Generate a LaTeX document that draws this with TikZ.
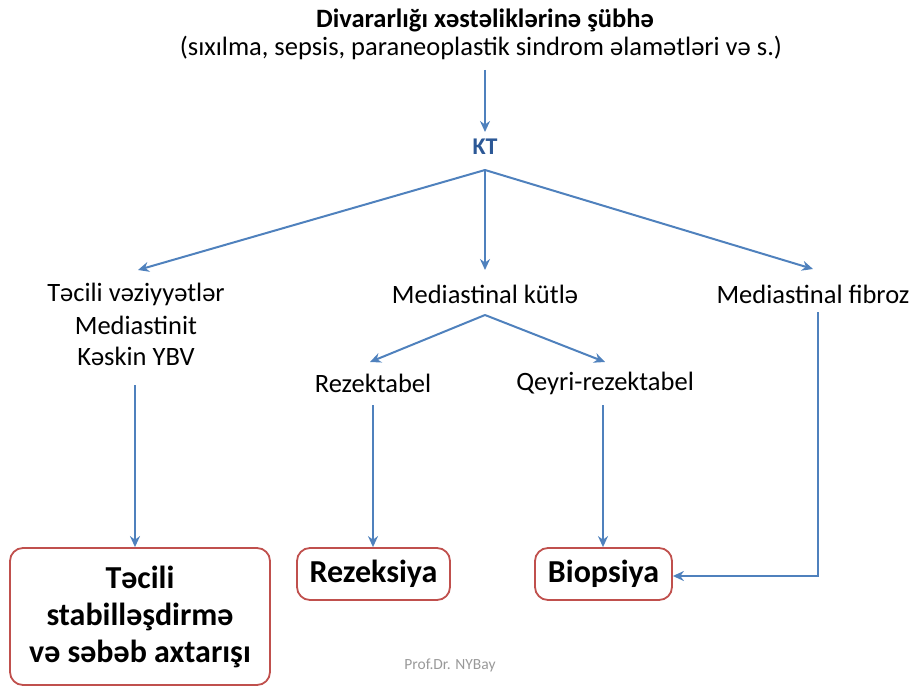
\documentclass[tikz,border=0pt]{standalone}
\usepackage{fontspec}
\setmainfont{Carlito}
\usetikzlibrary{arrows.meta}
\definecolor{ablue}{RGB}{79,129,189}
\definecolor{ktblue}{RGB}{44,88,150}
\definecolor{bred}{RGB}{192,80,77}
\begin{document}
\begin{tikzpicture}[x=1pt,y=-1pt,
  conn/.style={draw=ablue,line width=2pt,-{Stealth[length=11pt,width=10pt]}},
  txt/.style={font=\fontsize{26.5}{30}\selectfont,inner sep=0pt,align=center},
  res/.style={draw=bred,line width=1.8pt,rounded corners=13pt,font=\bfseries\fontsize{32}{37}\selectfont,align=center,inner sep=0pt}]
\useasboundingbox (0,0) rectangle (915,687);
\node[txt,font=\bfseries\fontsize{26.5}{30}\selectfont] (t1) at (485,20) {Divararlığı xəstəliklərinə şübhə};
\node[txt] (t2) at (481,48) {(sıxılma, sepsis, paraneoplastik sindrom əlamətləri və s.)};
\node[txt,font=\bfseries\fontsize{24}{27}\selectfont,text=ktblue] (kt) at (485,147) {KT};
\coordinate (a0) at (485,70);
\coordinate (a1) at (485,132);
\draw[conn] (a0) -- (a1);
\coordinate (k) at (485,170);
\coordinate (lt) at (138,270);
\coordinate (mt) at (485,270);
\coordinate (rt) at (813,269);
\draw[conn] (k) -- (lt);
\draw[conn] (k) -- (mt);
\draw[conn] (k) -- (rt);
\node[txt] (l1) at (136,294) {Təcili vəziyyətlər};
\node[txt] (l2) at (136,325) {Mediastinit};
\node[txt] (l3) at (136,356) {Kəskin YBV};
\node[txt] (m) at (485,294) {Mediastinal kütlə};
\node[txt] (r) at (813,294) {Mediastinal fibroz};
\coordinate (ms) at (485,315);
\coordinate (rzt) at (370,362);
\coordinate (qrt) at (605,362);
\draw[conn] (ms) -- (rzt);
\draw[conn] (ms) -- (qrt);
\node[txt] (rz) at (373,383) {Rezektabel};
\node[txt] (qr) at (605,383) {Qeyri-rezektabel};
\node[res,minimum width=260pt,minimum height=137pt] (b1) at (140,616.5) {Təcili\\stabilləşdirmə\\və səbəb axtarışı};
\node[res,minimum width=153pt,minimum height=52pt] (b2) at (373.5,574) {Rezeksiya};
\node[res,minimum width=137pt,minimum height=52pt] (b3) at (603.5,574) {Biopsiya};
\coordinate (s1) at (135,385);
\coordinate (s2) at (373,405);
\coordinate (s3) at (603,405);
\draw[conn] (s1) -- (s1 |- b1.north);
\draw[conn] (s2) -- (s2 |- b2.north);
\draw[conn] (s3) -- (s3 |- b3.north);
\coordinate (f1) at (818,312);
\coordinate (f2) at (818,576);
\draw[conn] (f1) -- (f2) -- (b3.east |- f2);
\node[font=\fontsize{15.5}{18}\selectfont,text=gray!80,inner sep=0pt] (ft) at (450,665) {Prof.Dr. NYBay};
\end{tikzpicture}
\end{document}
